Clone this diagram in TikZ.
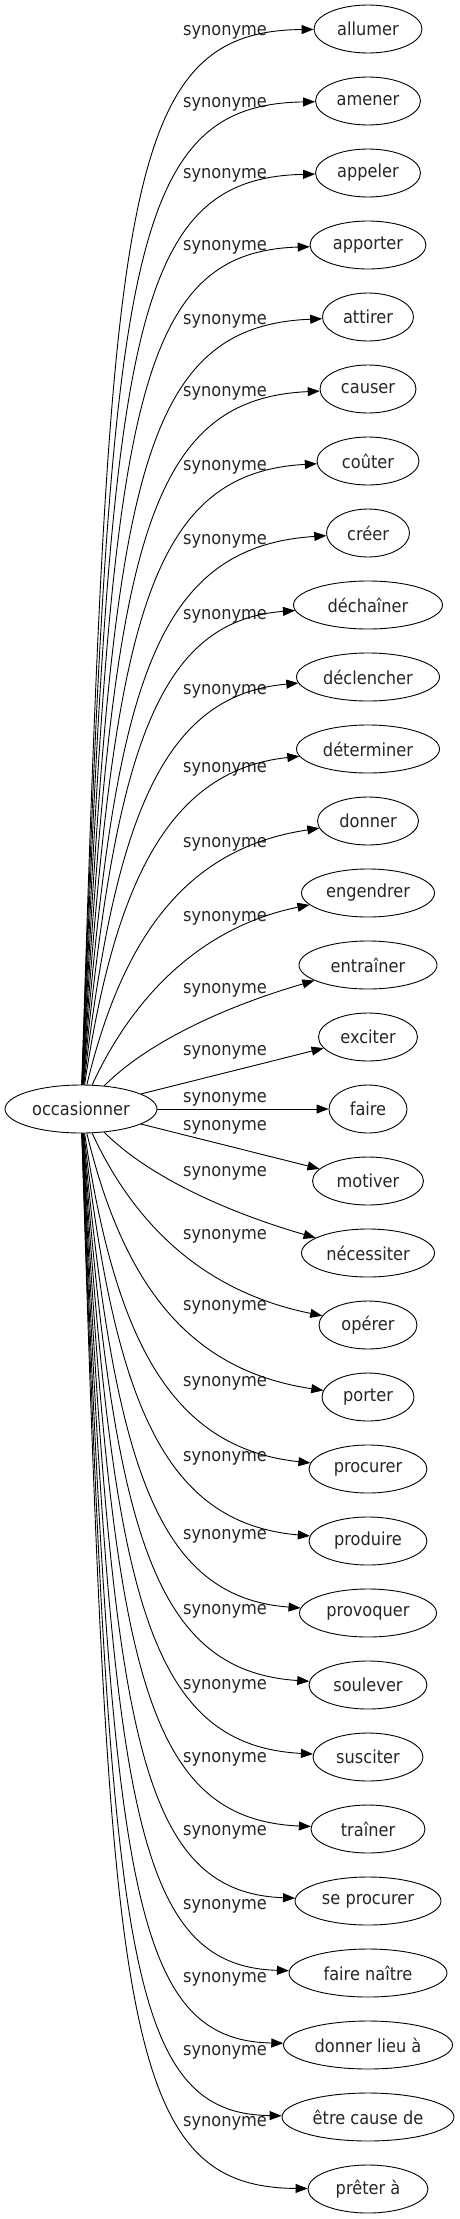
\documentclass[tikz,border=0pt]{standalone}
\usepackage{fontspec}
\setmainfont{DejaVu Sans Condensed}
\usetikzlibrary{shapes.geometric,arrows.meta}
\begin{document}
\begin{tikzpicture}[x=1pt,y=-1pt,
  every node/.style={font=\fontsize{18}{21}\selectfont, text=black!85},
  tgt/.style={draw=black, ellipse, inner sep=0pt, minimum height=48pt, line width=0.9pt},
  lab/.style={inner sep=0pt},
  syn/.style={draw=black, line width=0.9pt, -{Triangle[length=12pt,width=9pt]}}]
\useasboundingbox (0,0) rectangle (459,2219);
% source
\node[tgt, minimum width=152pt] (s) at (81,1109) {occasionner};
% targets
\node[tgt, minimum width=108pt] (t0)  at (368,29)   {allumer};
\node[tgt, minimum width=105pt] (t1)  at (368,101)  {amener};
\node[tgt, minimum width=105pt] (t2)  at (368,173)  {appeler};
\node[tgt, minimum width=116pt] (t3)  at (368,245)  {apporter};
\node[tgt, minimum width=91pt]  (t4)  at (368,317)  {attirer};
\node[tgt, minimum width=96pt]  (t5)  at (368,389)  {causer};
\node[tgt, minimum width=102pt] (t6)  at (368,461)  {coûter};
\node[tgt, minimum width=83pt]  (t7)  at (368,533)  {créer};
\node[tgt, minimum width=149pt] (t8)  at (368,605)  {déchaîner};
\node[tgt, minimum width=143pt] (t9)  at (368,677)  {déclencher};
\node[tgt, minimum width=143pt] (t10) at (368,749)  {déterminer};
\node[tgt, minimum width=101pt] (t11) at (368,821)  {donner};
\node[tgt, minimum width=133pt] (t12) at (368,893)  {engendrer};
\node[tgt, minimum width=138pt] (t13) at (368,965)  {entraîner};
\node[tgt, minimum width=99pt]  (t14) at (368,1037) {exciter};
\node[tgt, minimum width=78pt]  (t15) at (368,1109) {faire};
\node[tgt, minimum width=111pt] (t16) at (368,1181) {motiver};
\node[tgt, minimum width=133pt] (t17) at (368,1253) {nécessiter};
\node[tgt, minimum width=98pt]  (t18) at (368,1325) {opérer};
\node[tgt, minimum width=92pt]  (t19) at (368,1397) {porter};
\node[tgt, minimum width=118pt] (t20) at (368,1469) {procurer};
\node[tgt, minimum width=118pt] (t21) at (368,1541) {produire};
\node[tgt, minimum width=137pt] (t22) at (368,1613) {provoquer};
\node[tgt, minimum width=118pt] (t23) at (368,1685) {soulever};
\node[tgt, minimum width=110pt] (t24) at (368,1757) {susciter};
\node[tgt, minimum width=114pt] (t25) at (368,1829) {traîner};
\node[tgt, minimum width=146pt] (t26) at (368,1901) {se procurer};
\node[tgt, minimum width=158pt] (t27) at (368,1973) {faire naître};
\node[tgt, minimum width=169pt] (t28) at (368,2045) {donner lieu à};
\node[tgt, minimum width=172pt] (t29) at (368,2117) {être cause de};
\node[tgt, minimum width=120pt] (t30) at (368,2189) {prêter à};
% labels
\node[lab] (l0)  at (225,32)   {synonyme};
\node[lab] (l1)  at (225,104)  {synonyme};
\node[lab] (l2)  at (225,175)  {synonyme};
\node[lab] (l3)  at (225,247)  {synonyme};
\node[lab] (l4)  at (225,321)  {synonyme};
\node[lab] (l5)  at (225,393)  {synonyme};
\node[lab] (l6)  at (225,467)  {synonyme};
\node[lab] (l7)  at (225,541)  {synonyme};
\node[lab] (l8)  at (225,616)  {synonyme};
\node[lab] (l9)  at (225,691)  {synonyme};
\node[lab] (l10) at (225,769)  {synonyme};
\node[lab] (l11) at (225,844)  {synonyme};
\node[lab] (l12) at (225,918)  {synonyme};
\node[lab] (l13) at (225,990)  {synonyme};
\node[lab] (l14) at (225,1052) {synonyme};
\node[lab] (l15) at (225,1099) {synonyme};
\node[lab] (l16) at (225,1127) {synonyme};
\node[lab] (l17) at (225,1173) {synonyme};
\node[lab] (l18) at (225,1236) {synonyme};
\node[lab] (l19) at (225,1307) {synonyme};
\node[lab] (l20) at (225,1383) {synonyme};
\node[lab] (l21) at (225,1458) {synonyme};
\node[lab] (l22) at (225,1536) {synonyme};
\node[lab] (l23) at (225,1611) {synonyme};
\node[lab] (l24) at (225,1686) {synonyme};
\node[lab] (l25) at (225,1759) {synonyme};
\node[lab] (l26) at (225,1832) {synonyme};
\node[lab] (l27) at (225,1906) {synonyme};
\node[lab] (l28) at (225,1979) {synonyme};
\node[lab] (l29) at (225,2052) {synonyme};
\node[lab] (l30) at (225,2123) {synonyme};
% edges top
\draw[syn] (s) .. controls (110,200) and (120,31) .. (t0);
\draw[syn] (s) .. controls (110.5,272) and (124,104.5) .. (t1);
\draw[syn] (s) .. controls (111,341.5) and (128,178) .. (t2);
\draw[syn] (s) .. controls (111.5,418) and (132,252) .. (t3);
\draw[syn] (s) .. controls (112,491) and (136,326) .. (t4);
\draw[syn] (s) .. controls (112.5,562) and (140,399) .. (t5);
\draw[syn] (s) .. controls (113,629.5) and (145,473) .. (t6);
\draw[syn] (s) .. controls (113.5,694) and (150,547) .. (t7);
\draw[syn] (s) .. controls (114,756) and (155,621) .. (t8);
\draw[syn] (s) .. controls (114.5,819.6) and (162,695) .. (t9);
\draw[syn] (s) .. controls (115,880) and (170,770) .. (t10);
\draw[syn] (s) .. controls (122,939) and (185,848) .. (t11);
\draw[syn] (s) .. controls (135,992) and (205,926) .. (t12);
\draw[syn] (s) .. controls (150,1040) and (230,1005) .. (t13);
\draw[syn] (s) -- (t14);
\draw[syn] (s) -- (t15);
\draw[syn] (s) -- (t16);
% edges bottom
\draw[syn] (s) .. controls (150,1178) and (230,1213) .. (t17);
\draw[syn] (s) .. controls (135,1226) and (205,1292) .. (t18);
\draw[syn] (s) .. controls (122,1279) and (185,1370) .. (t19);
\draw[syn] (s) .. controls (115,1338) and (170,1448) .. (t20);
\draw[syn] (s) .. controls (114.5,1398.4) and (162,1523) .. (t21);
\draw[syn] (s) .. controls (114,1462) and (155,1597) .. (t22);
\draw[syn] (s) .. controls (113.5,1524) and (150,1671) .. (t23);
\draw[syn] (s) .. controls (113,1588.5) and (145,1745) .. (t24);
\draw[syn] (s) .. controls (112.5,1656) and (140,1819) .. (t25);
\draw[syn] (s) .. controls (112,1727) and (136,1892) .. (t26);
\draw[syn] (s) .. controls (111.5,1800) and (132,1966) .. (t27);
\draw[syn] (s) .. controls (111,1876.5) and (128,2040) .. (t28);
\draw[syn] (s) .. controls (110.5,1946) and (124,2113.5) .. (t29);
\draw[syn] (s) .. controls (110,2018) and (120,2187) .. (t30);
\end{tikzpicture}
\end{document}
